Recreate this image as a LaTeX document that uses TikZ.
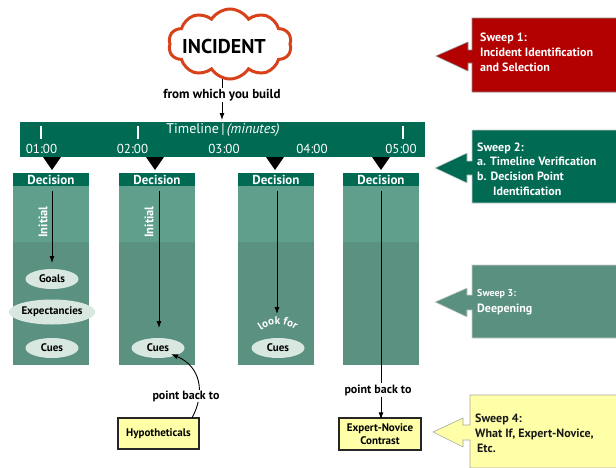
\documentclass[tikz,border=0pt]{standalone}
\usepackage{fontspec}
\setmainfont{PT Sans}
\usetikzlibrary{shapes.geometric,shapes.symbols,arrows.meta,decorations.text}
\definecolor{dkgreen}{HTML}{006A53}
\definecolor{colup}{HTML}{5F9F8B}
\definecolor{collow}{HTML}{5A9181}
\definecolor{midgreen}{HTML}{5A9080}
\definecolor{sweepred}{HTML}{B30000}
\definecolor{cloudred}{HTML}{D8421B}
\definecolor{pale}{HTML}{D9E7E1}
\definecolor{yel}{HTML}{FFFFA8}
\tikzset{
  colhead/.style={fill=dkgreen, text=white, font=\bfseries\fontsize{13}{13}\selectfont, minimum width=76pt, minimum height=13pt, inner sep=0pt},
  cue/.style={ellipse, fill=pale, font=\bfseries\fontsize{11}{12}\selectfont, inner sep=0pt, minimum width=53pt, minimum height=20pt},
  arr/.style={-{Latex[length=7pt,width=5pt]}, line width=0.9pt, black},
  tick/.style={white, line width=1.4pt},
  tri/.style={fill=black},
  sweeptxt/.style={anchor=west, align=left, text=white, font=\bfseries\fontsize{12}{15}\selectfont, inner sep=0pt},
  ybox/.style={draw=black!85, line width=1.3pt, fill=yel, font=\bfseries\fontsize{11}{12.5}\selectfont, align=center, inner sep=1pt},
  lbl/.style={font=\bfseries\fontsize{12}{13}\selectfont, fill=white, inner sep=1pt},
  inittxt/.style={rotate=90, text=white, font=\bfseries\fontsize{12.5}{13}\selectfont, inner sep=0pt},
}
\begin{document}
\begin{tikzpicture}[x=1pt,y=-1pt]
\useasboundingbox (0,0) rectangle (616,467);

% cloud
\node[cloud, cloud puffs=10, cloud puff arc=115, aspect=1.75, draw=cloudred, line width=3pt, fill=white,
  minimum width=123pt, minimum height=70pt, inner sep=0pt] (cloud) at (230,44) {};
\node[font=\bfseries\fontsize{20}{22}\selectfont] (inc) at (224,46) {INCIDENT};
\node[font=\bfseries\fontsize{13}{14}\selectfont, inner sep=1pt] (build) at (222,95) {from which you build};
\coordinate (cb) at (222,79);
\draw[line width=0.9pt] (cb) -- (build.north);
\coordinate (tltop) at (222,120);
\draw[arr] (build.south) -- (tltop);

% timeline bar
\node[fill=dkgreen, minimum width=405pt, minimum height=35pt, inner sep=0pt] (bar) at (222.5,139.5) {};
\node[text=white, font=\fontsize{14}{15}\selectfont, inner sep=0pt] (tltxt) at (223,130) {Timeline\,|\,\textit{(minutes)}};
\foreach \x in {41,138,403} \draw[tick] (\x,126) -- (\x,139);
\foreach \x/\t in {41.5/01:00,132.5/02:00,224/03:00,312/04:00,401/05:00}
  \node[text=white, font=\fontsize{13}{14}\selectfont, inner sep=0pt] at (\x,149) {\t};

% triangles
\foreach \x in {52,155,275,381}
  \fill[tri] (\x-9,157) -- (\x+9,157) -- (\x,170) -- cycle;

% columns
\foreach \x/\n in {51/1,157/2,276/3,381/4}{
  \fill[collow] (\x-38,186) rectangle (\x+38,365);
  \fill[colup] (\x-38,186) rectangle (\x+38,242);
  \node[colhead] (h\n) at (\x,179.5) {Decision};
}

% column 1
\node[cue] (goals) at (52,279) {Goals};
\node[cue, minimum width=69pt, minimum height=25pt] (expect) at (52,312) {Expectancies};
\node[cue] (cues1) at (52,348) {Cues};
\coordinate (t1) at (52,191);
\draw[arr] (t1) -- (52,263) coordinate (e1);
\node[inittxt] (init1) at (43,222) {Initial};

% column 2
\node[cue] (cues2) at (158,348) {Cues};
\coordinate (t2) at (159,191);
\draw[arr] (t2) -- (159,328) coordinate (e2);
\node[inittxt] (init2) at (149,222) {Initial};

% column 3
\node[cue] (cues3) at (278,348) {Cues};
\coordinate (t3) at (277,191);
\draw[arr] (t3) -- (277,314) coordinate (e3);
\path[decorate, decoration={text along path, text align=center,
  text={|\bfseries\fontsize{11}{11}\selectfont\color{white}|look for}}]
  (253,338) .. controls (266,320) and (290,320) .. (303,338);

% column 4
\coordinate (t4) at (381,191);
\node[lbl] (pb4) at (378,390) {point back to};
\draw[line width=0.9pt] (t4) -- (pb4.north -| t4);
\node[ybox, minimum width=82pt, minimum height=32pt] (expert) at (380,434) {Expert-Novice\\Contrast};
\draw[arr] (pb4.south -| t4) -- ([yshift=-2pt]expert.north -| t4);

% hypotheticals
\node[ybox, minimum width=81pt, minimum height=31pt] (hyp) at (158.5,433.5) {Hypotheticals};
\coordinate (hs) at (192,418);
\draw[arr] (hs) .. controls (206,392) and (200,366) .. (171,354);
\node[lbl] (pb2) at (186,396) {point back to};

% Sweep 1
\filldraw[fill=sweepred, draw=black!45, line width=0.6pt]
  (436,56) -- (468,42) -- (468,50) -- (472,50) -- (472,18) -- (617,18) -- (617,92) -- (472,92) -- (472,63) -- (468,63) -- (468,71) -- cycle;
\node[sweeptxt] (s1) at (480,52) {Sweep 1:\\Incident Identification\\and Selection};
% Sweep 2
\filldraw[fill=dkgreen, draw=white!80!black, line width=0.6pt]
  (435,168) -- (467,153) -- (467,161) -- (472,161) -- (472,130) -- (617,130) -- (617,203) -- (472,203) -- (472,175) -- (467,175) -- (467,183) -- cycle;
\node[sweeptxt, font=\bfseries\fontsize{12}{14.7}\selectfont] (s2) at (477,169) {Sweep 2:\\a. Timeline Verification\\b. Decision Point\\\hspace*{16pt}Identification};
% Sweep 3
\filldraw[fill=midgreen, draw=white!80!black, line width=0.6pt]
  (435,302) -- (467,288) -- (467,295) -- (472,295) -- (472,265) -- (617,265) -- (617,338) -- (472,338) -- (472,310) -- (467,310) -- (467,317) -- cycle;
\node[sweeptxt, font=\bfseries\fontsize{10}{12}\selectfont] (s3a) at (477,294) {Sweep 3:};
\node[sweeptxt] (s3b) at (477,309) {Deepening};
% Sweep 4
\filldraw[fill=yel, draw=black!35, line width=0.6pt]
  (433,432) -- (463,418) -- (463,425) -- (470,425) -- (470,395) -- (617,395) -- (617,468) -- (470,468) -- (470,440) -- (463,440) -- (463,447) -- cycle;
\node[sweeptxt, text=black!90] (s4) at (475,433) {Sweep 4:\\What If, Expert-Novice,\\\hspace*{2pt}Etc.};
\end{tikzpicture}
\end{document}
